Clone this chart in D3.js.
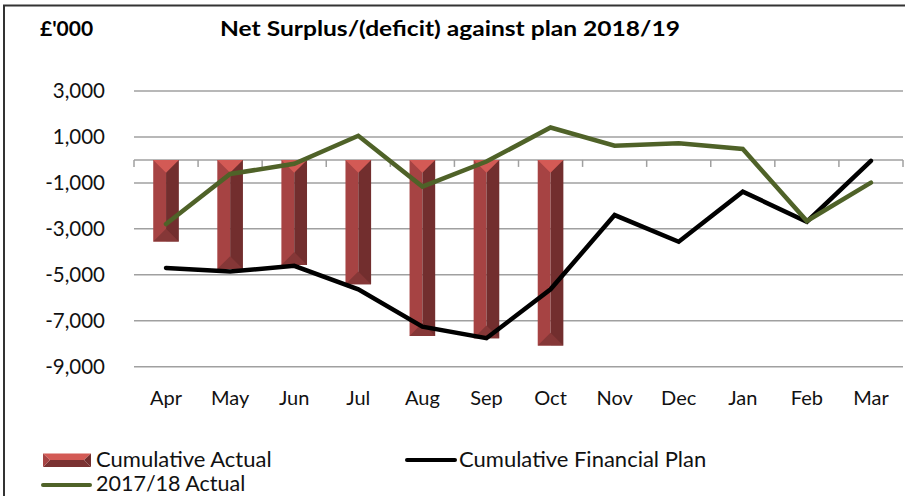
<!DOCTYPE html>
<html>
<head>
<meta charset="utf-8">
<script src="https://cdn.jsdelivr.net/npm/d3@7"></script>
<style>
  html, body { margin: 0; padding: 0; background: #fff; }
  svg { display: block; font-family: Lato, "Open Sans", sans-serif; }
</style>
</head>
<body>
<div id="chart"></div>
<script>
const months = ['Apr', 'May', 'Jun', 'Jul', 'Aug', 'Sep', 'Oct', 'Nov', 'Dec', 'Jan', 'Feb', 'Mar'];
const cumulativeActual = [-3550, -4750, -4570, -5410, -7660, -7760, -8080];
const financialPlan = [-4700, -4860, -4610, -5630, -7260, -7760, -5630, -2400, -3560, -1380, -2690, -40];
const actual1718 = [-2790, -610, -170, 1050, -1160, -70, 1410, 620, 730, 480, -2660, -990];
const yTicks = [3000, 1000, -1000, -3000, -5000, -7000, -9000];

const width = 905;
const height = 496;
const plot = { left: 134, right: 903, top: 91, bottom: 366.7 };

const svg = d3.select('#chart')
  .append('svg')
  .attr('width', width)
  .attr('height', height);

// chart frame (cropped excel chart: top and left edges visible)
svg.append('path')
  .attr('d', 'M4,496V5.5H905')
  .attr('fill', 'none')
  .attr('stroke', '#333')
  .attr('stroke-width', 2);

const x = d3.scaleBand()
  .domain(months)
  .range([plot.left, plot.right]);

const y = d3.scaleLinear()
  .domain([-9000, 3000])
  .range([plot.bottom, plot.top]);

// gridlines
svg.append('g')
  .selectAll('line')
  .data(yTicks)
  .join('line')
    .attr('x1', plot.left)
    .attr('x2', plot.right)
    .attr('y1', d => y(d))
    .attr('y2', d => y(d))
    .attr('stroke', '#a0a0a0')
    .attr('stroke-width', 1.5);

// y labels
svg.append('g')
  .attr('font-size', '20.5px')
  .attr('fill', '#111')
  .attr('text-anchor', 'end')
  .selectAll('text')
  .data(yTicks)
  .join('text')
    .attr('x', 105)
    .attr('y', d => y(d))
    .attr('dy', '0.36em')
    .text(d => d3.format(',')(d).replace('−', '-'));

// x axis at zero
const xAxis = svg.append('g')
  .attr('transform', `translate(0, ${y(0)})`);
xAxis.append('line')
  .attr('x1', plot.left).attr('x2', plot.right)
  .attr('stroke', '#a0a0a0').attr('stroke-width', 1.5);
xAxis.selectAll('.tk')
  .data(months.map(m => x(m)).concat([plot.right]))
  .join('line')
    .attr('class', 'tk')
    .attr('x1', d => d).attr('x2', d => d)
    .attr('y1', 0).attr('y2', 7)
    .attr('stroke', '#a0a0a0').attr('stroke-width', 1.5);

// month labels
svg.append('g')
  .attr('font-size', '20px')
  .attr('fill', '#111')
  .attr('text-anchor', 'middle')
  .selectAll('text')
  .data(months)
  .join('text')
    .attr('x', d => x(d) + x.bandwidth() / 2)
    .attr('y', 405)
    .text(d => d);

// bevelled bars
const barW = x.bandwidth() * 0.4;
const bars = svg.append('g')
  .selectAll('g')
  .data(cumulativeActual.map((v, i) => ({ m: months[i], v })))
  .join('g');

function facePath(d, part) {
  const cx = x(d.m) + x.bandwidth() / 2;
  const x0 = cx - barW / 2, x1 = cx + barW / 2;
  const y0 = y(0), y1 = y(d.v);
  const b = barW / 2;
  if (part === 'left') return `M${x0},${y0}H${cx}V${y1}H${x0}Z`;
  if (part === 'right') return `M${cx},${y0}H${x1}V${y1}H${cx}Z`;
  if (part === 'top') return `M${x0},${y0}H${x1}L${cx},${y0 + b}Z`;
  return `M${x0},${y1}H${x1}L${cx},${y1 - b}Z`;
}

bars.append('path').attr('d', d => facePath(d, 'left')).attr('fill', '#a64343');
bars.append('path').attr('d', d => facePath(d, 'right')).attr('fill', '#722e2e');
bars.append('path').attr('d', d => facePath(d, 'bottom')).attr('fill', '#853737');
bars.append('path').attr('d', d => facePath(d, 'top')).attr('fill', '#d35a55');

// lines
const line = d3.line()
  .x((d, i) => x(months[i]) + x.bandwidth() / 2)
  .y(d => y(d));

svg.append('path')
  .datum(financialPlan)
  .attr('d', line)
  .attr('fill', 'none')
  .attr('stroke', '#000')
  .attr('stroke-width', 4.5)
  .attr('stroke-linecap', 'round');

svg.append('path')
  .datum(actual1718)
  .attr('d', line)
  .attr('fill', 'none')
  .attr('stroke', '#4f6228')
  .attr('stroke-width', 4.5)
  .attr('stroke-linecap', 'round');

// title and unit
svg.append('text')
  .attr('x', 40).attr('y', 36)
  .attr('font-size', '21px').attr('font-weight', 'bold')
  .text("£'000");

svg.append('text')
  .attr('x', 220).attr('y', 36)
  .attr('font-size', '21px').attr('font-weight', 'bold')
  .attr('textLength', 460).attr('lengthAdjust', 'spacingAndGlyphs')
  .text('Net Surplus/(deficit) against plan 2018/19');

// legend
const legend = svg.append('g').attr('font-size', '22px').attr('fill', '#111');

legend.append('path')
  .attr('d', 'M43,453.5H91L84,460H50Z').attr('fill', '#d35a55');
legend.append('path')
  .attr('d', 'M50,460H84L91,467H43Z').attr('fill', '#7a3232');
legend.append('path')
  .attr('d', 'M43,453.5L50,460L43,467Z').attr('fill', '#a64343');
legend.append('path')
  .attr('d', 'M91,453.5L84,460L91,467Z').attr('fill', '#722e2e');
legend.append('text').attr('x', 96).attr('y', 467).text('Cumulative Actual');

legend.append('line')
  .attr('x1', 407).attr('x2', 455).attr('y1', 460).attr('y2', 460)
  .attr('stroke', '#000').attr('stroke-width', 4).attr('stroke-linecap', 'round');
legend.append('text').attr('x', 459).attr('y', 467).text('Cumulative Financial Plan');

legend.append('line')
  .attr('x1', 43).attr('x2', 90).attr('y1', 485).attr('y2', 485)
  .attr('stroke', '#4f6228').attr('stroke-width', 4).attr('stroke-linecap', 'round');
legend.append('text').attr('x', 96).attr('y', 491).attr('font-size', '21.5px').text('2017/18 Actual');
</script>
</body>
</html>
